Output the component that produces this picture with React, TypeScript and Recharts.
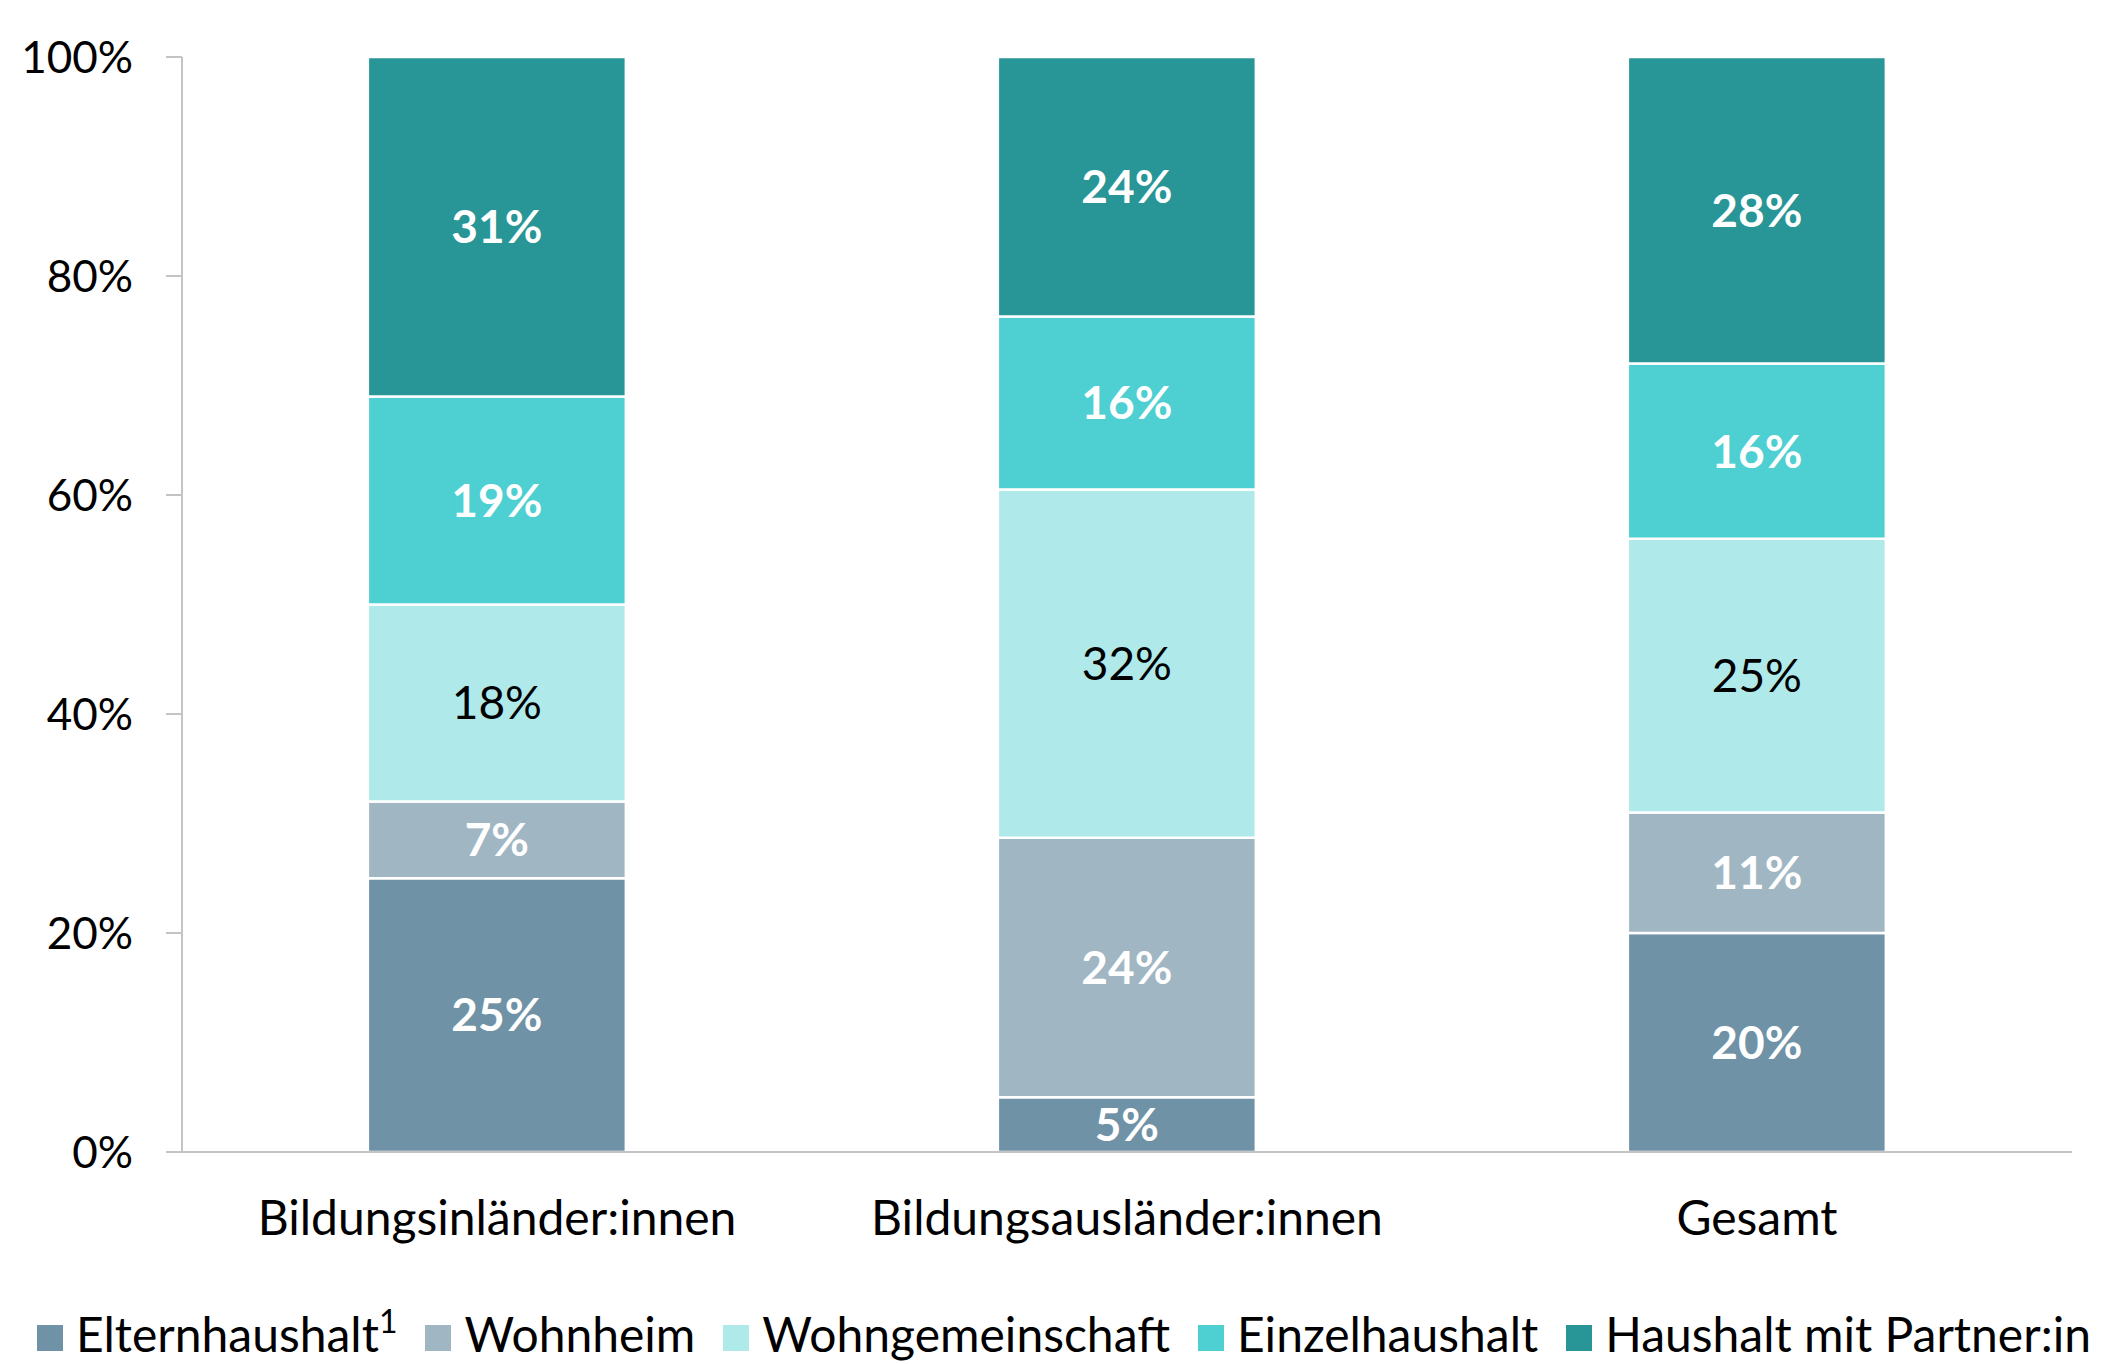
import { Bar, BarChart, LabelList, Legend, XAxis, YAxis } from "recharts";

const categories = ["Bildungsinländer:innen", "Bildungsausländer:innen", "Gesamt"];
const elternhaushalt = [25, 5, 20];
const wohnheim = [7, 23.7, 11];
const wohngemeinschaft = [18, 31.8, 25];
const einzelhaushalt = [19, 15.8, 16];
const partner = [31, 23.7, 28];
const yTicks = [0, 20, 40, 60, 80, 100];

const FONT = "Lato, sans-serif";
const AXIS_GRAY = "#C4C4C4";

const series = [
  { key: "eltern", name: "Elternhaushalt", sup: "1", color: "#6F92A6", label: "#FFFFFF", bold: true },
  { key: "wohnheim", name: "Wohnheim", sup: "", color: "#A1B6C3", label: "#FFFFFF", bold: true },
  { key: "wg", name: "Wohngemeinschaft", sup: "", color: "#AFE9EA", label: "#000000", bold: false },
  { key: "einzel", name: "Einzelhaushalt", sup: "", color: "#4ECFD2", label: "#FFFFFF", bold: true },
  { key: "partner", name: "Haushalt mit Partner:in", sup: "", color: "#289596", label: "#FFFFFF", bold: true },
];

const data = categories.map((name, i) => ({
  name,
  eltern: elternhaushalt[i],
  wohnheim: wohnheim[i],
  wg: wohngemeinschaft[i],
  einzel: einzelhaushalt[i],
  partner: partner[i],
}));

function LegendRow() {
  return (
    <div
      style={{
        display: "flex",
        justifyContent: "center",
        alignItems: "center",
        height: 56,
        lineHeight: "56px",
        fontFamily: FONT,
        fontSize: 48,
        color: "#000",
        whiteSpace: "nowrap",
      }}
    >
      {series.map((s, i) => (
        <div
          key={s.key}
          style={{ display: "flex", alignItems: "center", marginRight: i === series.length - 1 ? 0 : 28 }}
        >
          <span style={{ width: 26, height: 26, background: s.color, marginRight: 13, marginTop: 8 }} />
          <span>
            {s.name}
            {s.sup && <sup style={{ fontSize: 32, lineHeight: 0, verticalAlign: "0.6em" }}>{s.sup}</sup>}
          </span>
        </div>
      ))}
    </div>
  );
}

export default function App() {
  return (
    <div style={{ position: "absolute", left: 0, top: 0, width: 2128, height: 1364, background: "#fff" }}>
      <BarChart
        width={2128}
        height={1364}
        data={data}
        margin={{ top: 57, right: 56, left: 0, bottom: 2 }}
        barCategoryGap="29.5%"
      >
        <XAxis
          dataKey="name"
          axisLine={{ stroke: AXIS_GRAY, strokeWidth: 2 }}
          tickLine={false}
          tickSize={0}
          tickMargin={49}
          height={154}
          tick={{ fill: "#000", fontSize: 48, fontFamily: FONT }}
        />
        <YAxis
          width={182}
          domain={[0, 100]}
          ticks={yTicks}
          interval={0}
          tickFormatter={(v: number) => `${v}%`}
          axisLine={{ stroke: AXIS_GRAY, strokeWidth: 2 }}
          tickLine={{ stroke: AXIS_GRAY, strokeWidth: 2 }}
          tickSize={16}
          tickMargin={33}
          tick={{ fill: "#000", fontSize: 44, fontFamily: FONT }}
        />
        <Legend
          verticalAlign="bottom"
          content={() => <LegendRow />}
          wrapperStyle={{ left: 0, width: 2128 }}
        />
        {series.map((s) => (
          <Bar
            key={s.key}
            dataKey={s.key}
            name={s.name}
            stackId="a"
            fill={s.color}
            stroke="#FFFFFF"
            strokeWidth={2.5}
            isAnimationActive={false}
          >
            <LabelList
              dataKey={s.key}
              position="center"
              formatter={(v: number) => `${Math.round(v)}%`}
              fill={s.label}
              style={{ fontFamily: FONT, fontSize: 46, fontWeight: s.bold ? 700 : 400 }}
            />
          </Bar>
        ))}
      </BarChart>
    </div>
  );
}
